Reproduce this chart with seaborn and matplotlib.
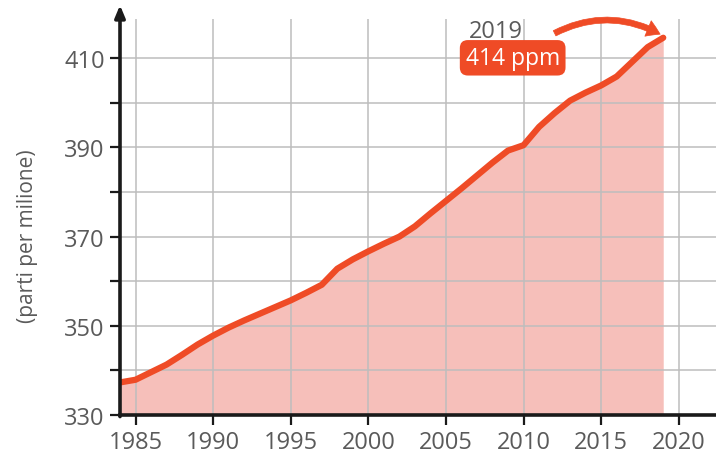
import matplotlib
matplotlib.use("Agg")
import matplotlib.pyplot as plt
import seaborn as sns
import pandas as pd

# Concentrazione di CO2 (ppm)
anni = list(range(1984, 2020))
ppm = [337.3, 337.9, 339.6, 341.3, 343.5, 345.8, 347.8, 349.6, 351.2, 352.7,
       354.2, 355.7, 357.4, 359.2, 362.8, 364.9, 366.7, 368.4, 370.0, 372.3,
       375.2, 378.0, 380.8, 383.7, 386.6, 389.3, 390.5, 394.6, 397.7, 400.5,
       402.3, 403.9, 405.9, 409.2, 412.5, 414.6]
x_ticks = [1985, 1990, 1995, 2000, 2005, 2010, 2015, 2020]
y_ticks = [330, 340, 350, 360, 370, 380, 390, 400, 410]
y_labels = ["330", "", "350", "", "370", "", "390", "", "410"]
anno_label = "2019"
valore_label = "414 ppm"

ROSSO = "#ef4b26"
ROSA = "#f6bfba"
GRIGIO = "#5a5a5a"

sns.set_theme(style="whitegrid")
plt.rcParams["font.family"] = ["Open Sans", "DejaVu Sans"]

df = pd.DataFrame({"anno": anni, "ppm": ppm})

fig = plt.figure(figsize=(7.16, 4.6), dpi=100)
ax = fig.add_axes([0.1676, 0.0957, 0.8324, 0.8608])
ax.set_facecolor("white")

ax.fill_between(df["anno"], 330, df["ppm"], color=ROSA, lw=0, zorder=1)
sns.lineplot(data=df, x="anno", y="ppm", color=ROSSO, lw=4.5, ax=ax,
             zorder=3, solid_capstyle="round")

ax.set_xlim(1984, 2022.4)
ax.set_ylim(330, 418.8)
ax.set_xticks(x_ticks)
ax.set_yticks(y_ticks)
ax.set_yticklabels(y_labels)
ax.set_xlabel("")
ax.set_ylabel("(parti per milione)", fontsize=15, color=GRIGIO)
ax.yaxis.set_label_coords(-0.137, 0.455)

ax.set_axisbelow(False)
ax.grid(True, color="#bdbdbd", lw=1.1, zorder=2)

for s in ["top", "right", "left"]:
    ax.spines[s].set_visible(False)
ax.spines["bottom"].set_color("#1a1a1a")
ax.spines["bottom"].set_linewidth(2.6)
ax.spines["bottom"].set_zorder(4)

# asse y con freccia
ax.annotate("", xy=(0, 1.035), xytext=(0, -0.004), xycoords="axes fraction",
            arrowprops=dict(arrowstyle="-|>,head_length=0.6,head_width=0.25",
                            lw=2.6, color="#1a1a1a", shrinkA=0, shrinkB=0),
            annotation_clip=False, zorder=5)

ax.tick_params(axis="both", which="major", length=7, width=1.6,
               color="#1a1a1a", labelsize=17, labelcolor=GRIGIO,
               bottom=True, left=True, pad=4, direction="out")

# annotazione 2019
ax.text(2008.2, 416.0, anno_label, fontsize=17, color=GRIGIO,
        ha="center", va="center", zorder=6)
ax.text(2009.3, 410.1, valore_label, fontsize=16.5, color="white",
        ha="center", va="center", zorder=6,
        bbox=dict(boxstyle="round,pad=0.25,rounding_size=0.35",
                  fc=ROSSO, ec="none"))
ax.annotate("", xy=(2018.8, 415.4), xytext=(2012.0, 415.6),
            arrowprops=dict(arrowstyle="simple,head_length=0.8,head_width=1.0,tail_width=0.35",
                            connectionstyle="arc3,rad=-0.26",
                            fc=ROSSO, ec=ROSSO, lw=0.5,
                            shrinkA=0, shrinkB=0),
            annotation_clip=False, zorder=6)

fig.savefig("out.png", dpi=100)
